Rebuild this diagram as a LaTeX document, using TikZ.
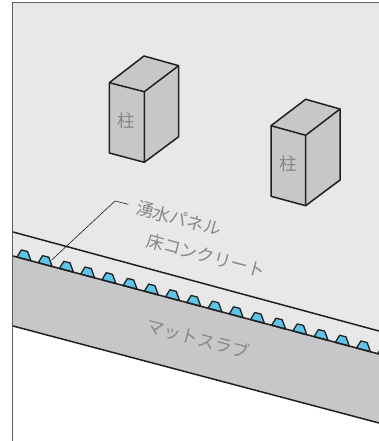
\documentclass[tikz,border=0pt]{standalone}
\usepackage{fontspec}
\newfontfamily\jp{Noto Sans CJK JP}
\definecolor{floorg}{HTML}{E8E8E9}
\definecolor{bodyg}{HTML}{C6C7C9}
\definecolor{ink}{HTML}{231F20}
\definecolor{wallg}{HTML}{5F6062}
\definecolor{panelb}{HTML}{5CC5E8}
\definecolor{labelg}{HTML}{85878A}
\tikzset{
  edge/.style={draw=ink,line width=1.5pt,line join=round},
  lbl/.style={text=labelg,inner sep=0pt,font=\jp\fontsize{17.5}{17.5}\selectfont},
  panelbox/.style={fill=panelb,draw=ink,line width=1.3pt,line join=round}
}
\begin{document}
\begin{tikzpicture}[x=1pt,y=-1pt]
\useasboundingbox (0,0) rectangle (379,441);
\begin{scope}
\clip (0,0) rectangle (379,441);
\fill[floorg] (13,3) -- (379,3) -- (379,354) -- (13,256) -- cycle;
\fill[bodyg] (13,256) -- (379,354) -- (379,423) -- (13,326) -- cycle;
\draw[edge] (13,232) -- (379,331);
\foreach \k in {0,...,17}{
  \pgfmathsetmacro{\bx}{24+21.22*\k}
  \pgfmathsetmacro{\by}{256+(\bx-13)*0.268}
  \draw[panelbox] (\bx-7,\by-1.9) -- (\bx-2.6,\by-9) -- (\bx+3.6,\by-7.4) -- (\bx+7,\by+1.9) -- cycle;
}
\draw[edge] (13,256) -- (379,354);
\draw[edge] (13,326) -- (379,423);
\end{scope}
\draw[draw=wallg,line width=1.5pt] (379,2.5) -- (12.7,2.5) -- (12.7,441);
% columns
\fill[bodyg] (109.3,82.7) -- (144,56) -- (178.7,65.7) -- (178.7,136.7) -- (144.3,162.3) -- (109.3,153) -- cycle;
\draw[edge] (109.3,82.7) -- (144,56) -- (178.7,65.7) -- (178.7,136.7) -- (144.3,162.3) -- (109.3,153) -- cycle;
\draw[edge] (109.3,82.7) -- (144.3,91.7) -- (178.7,65.7) (144.3,91.7) -- (144.3,162.3);
\fill[bodyg] (271,125.7) -- (305.7,99.3) -- (340,109) -- (340,180) -- (305.7,205.7) -- (271,196.3) -- cycle;
\draw[edge] (271,125.7) -- (305.7,99.3) -- (340,109) -- (340,180) -- (305.7,205.7) -- (271,196.3) -- cycle;
\draw[edge] (271,125.7) -- (305.7,135.3) -- (340,109) (305.7,135.3) -- (305.7,205.7);
\node[lbl] (c1) at (126.7,121) {柱};
\node[lbl] (c2) at (288.3,164.3) {柱};
\node[lbl,rotate=-15] (a) at (179,218.5) {湧水パネル};
\node[lbl,rotate=-15] (b) at (206,255.5) {床コンクリート};
\node[lbl,rotate=-15] (d) at (198,338.5) {マットスラブ};
\coordinate (p) at (51.7,260);
\coordinate (q) at (115,201);
\coordinate (r) at (128.3,204.3);
\draw[ink,line width=0.6pt] (p) -- (q) -- (r);
\end{tikzpicture}
\end{document}
